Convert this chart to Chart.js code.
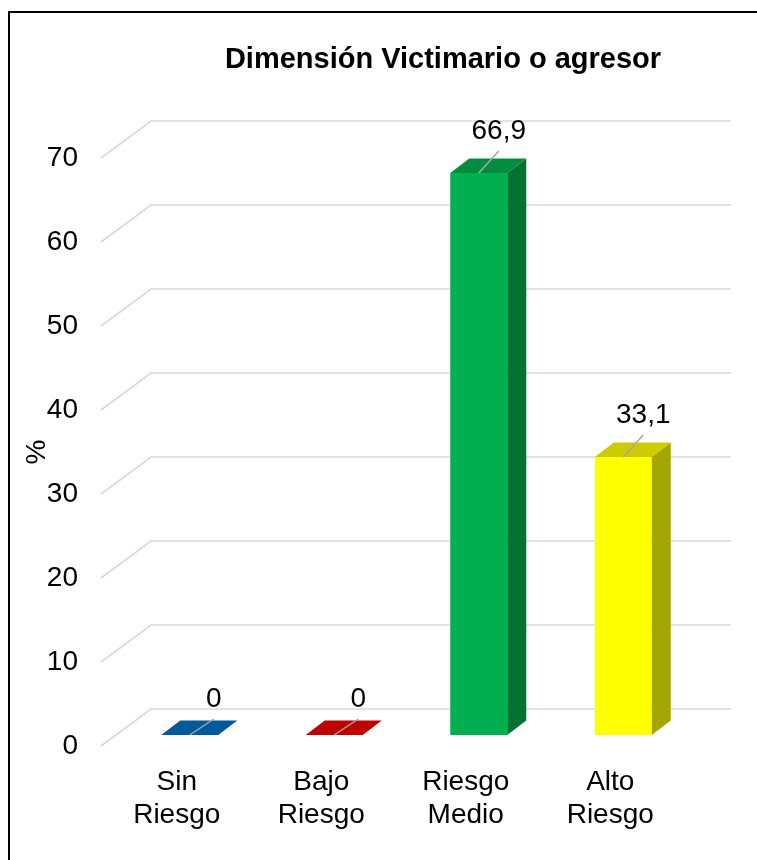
<!DOCTYPE html>
<html><head><meta charset="utf-8">
<script src="https://cdn.jsdelivr.net/npm/chart.js@4/dist/chart.umd.min.js"></script>
<style>html,body{margin:0;padding:0;background:#fff;}#wrap{width:757px;height:860px;position:relative;}</style>
</head><body><div id="wrap"><canvas id="c" width="757" height="860"></canvas></div>
<script>
const chartTitle = 'Dimensión Victimario o agresor';
const categories = [['Sin', 'Riesgo'], ['Bajo', 'Riesgo'], ['Riesgo', 'Medio'], ['Alto', 'Riesgo']];
const values = [0, 0, 66.9, 33.1];
const valueLabels = ['0', '0', '66,9', '33,1'];
const yTicks = [0, 10, 20, 30, 40, 50, 60, 70];
const yAxisTitle = '%';
const frontColors = ['#0070C0', '#E00000', '#00B050', '#FFFF00'];
const topColors = ['#005A9A', '#C00000', '#008D40', '#CCCC00'];
const sideColors = ['#004A80', '#A00000', '#007232', '#A6A600'];

const FONT = '"Liberation Sans", Arial, sans-serif';
// 3D geometry (relative to the plane of the bars' front faces)
const FRONT_DX = -16.5, FRONT_DY = 11;   // front edge of floor/wall
const BACK_DX = 33.5, BACK_DY = -26;     // back wall
const BAR_DX = 19, BAR_DY = -14.5;       // bar depth

const threeD = {
  id: 'threeD',
  beforeDatasetsDraw(chart) {
    const ctx = chart.ctx, ca = chart.chartArea;
    const ys = chart.scales.y, xs = chart.scales.x;
    ctx.save();
    // outer frame
    ctx.strokeStyle = '#000'; ctx.lineWidth = 2;
    ctx.beginPath();
    ctx.moveTo(9, 870); ctx.lineTo(9, 12); ctx.lineTo(770, 12);
    ctx.stroke();
    // title
    ctx.fillStyle = '#000';
    ctx.font = 'bold 29px ' + FONT;
    ctx.textAlign = 'center'; ctx.textBaseline = 'middle';
    ctx.fillText(chartTitle, 443, 60);
    // gridlines (back wall + left side wall)
    ctx.strokeStyle = '#D9D9D9'; ctx.lineWidth = 1.6;
    ys.ticks.forEach(t => {
      const yb = ys.getPixelForValue(t.value);
      ctx.beginPath();
      ctx.moveTo(ca.left + FRONT_DX, yb + FRONT_DY);
      ctx.lineTo(ca.left + BACK_DX, yb + BACK_DY);
      ctx.lineTo(ca.right + BACK_DX + 2, yb + BACK_DY);
      ctx.stroke();
    });
    // y tick labels
    ctx.fillStyle = '#000';
    ctx.font = '28px ' + FONT;
    ctx.textAlign = 'right'; ctx.textBaseline = 'middle';
    ys.ticks.forEach(t => {
      const yb = ys.getPixelForValue(t.value);
      ctx.fillText(String(t.value), ca.left + FRONT_DX - 23, yb + FRONT_DY);
    });
    // y axis title
    ctx.save();
    ctx.translate(37, 452); ctx.rotate(-Math.PI / 2);
    ctx.textAlign = 'center'; ctx.textBaseline = 'middle';
    ctx.fillText(yAxisTitle, 0, 0);
    ctx.restore();
    // category labels
    const y0 = ys.getPixelForValue(0) + FRONT_DY;
    ctx.textAlign = 'center'; ctx.textBaseline = 'middle';
    chart.data.labels.forEach((lab, i) => {
      const x = xs.getPixelForValue(i) - 13;
      lab.forEach((line, j) => ctx.fillText(line, x, y0 + 36 + j * 33));
    });
    ctx.restore();
  },
  afterDatasetsDraw(chart) {
    const ctx = chart.ctx;
    const meta = chart.getDatasetMeta(0);
    ctx.save();
    meta.data.forEach((bar, i) => {
      const p = bar.getProps(['x', 'y', 'base', 'width'], true);
      const l = p.x - p.width / 2, r = p.x + p.width / 2;
      const top = Math.min(p.y, p.base), bot = p.base;
      // side face
      if (bot - top > 0.5) {
        ctx.fillStyle = sideColors[i];
        ctx.beginPath();
        ctx.moveTo(r, top); ctx.lineTo(r + BAR_DX, top + BAR_DY);
        ctx.lineTo(r + BAR_DX, bot + BAR_DY); ctx.lineTo(r, bot);
        ctx.closePath(); ctx.fill();
      }
      // top face
      ctx.fillStyle = topColors[i];
      ctx.beginPath();
      ctx.moveTo(l, top); ctx.lineTo(l + BAR_DX, top + BAR_DY);
      ctx.lineTo(r + BAR_DX, top + BAR_DY); ctx.lineTo(r, top);
      ctx.closePath(); ctx.fill();
    });
    // data labels with leader lines
    meta.data.forEach((bar, i) => {
      const p = bar.getProps(['x', 'y'], true);
      const flat = Math.abs(p.y - bar.base) < 1;
      const lx = p.x + (flat ? 24 : 20), ly = p.y - (flat ? 36 : 42);
      ctx.strokeStyle = '#A6A6A6'; ctx.lineWidth = 1.5;
      ctx.beginPath();
      ctx.moveTo(p.x, p.y); ctx.lineTo(lx, ly + 20);
      ctx.stroke();
      ctx.fillStyle = '#000';
      ctx.font = '28px ' + FONT;
      ctx.textAlign = 'center'; ctx.textBaseline = 'middle';
      ctx.fillText(valueLabels[i], lx, ly);
    });
    ctx.restore();
  }
};

new Chart(document.getElementById('c'), {
  type: 'bar',
  data: {
    labels: categories,
    datasets: [{
      data: values,
      backgroundColor: frontColors,
      borderWidth: 0,
      barPercentage: 57 / 144.5,
      categoryPercentage: 1
    }]
  },
  options: {
    responsive: false,
    animation: false,
    layout: { padding: { left: 117.5, right: 61.5, top: 147, bottom: 125 } },
    scales: {
      x: { display: false },
      y: { display: false, min: 0, max: 70, ticks: { stepSize: 10 } }
    },
    plugins: { legend: { display: false }, tooltip: { enabled: false }, title: { display: false } }
  },
  plugins: [threeD]
});
</script></body></html>
